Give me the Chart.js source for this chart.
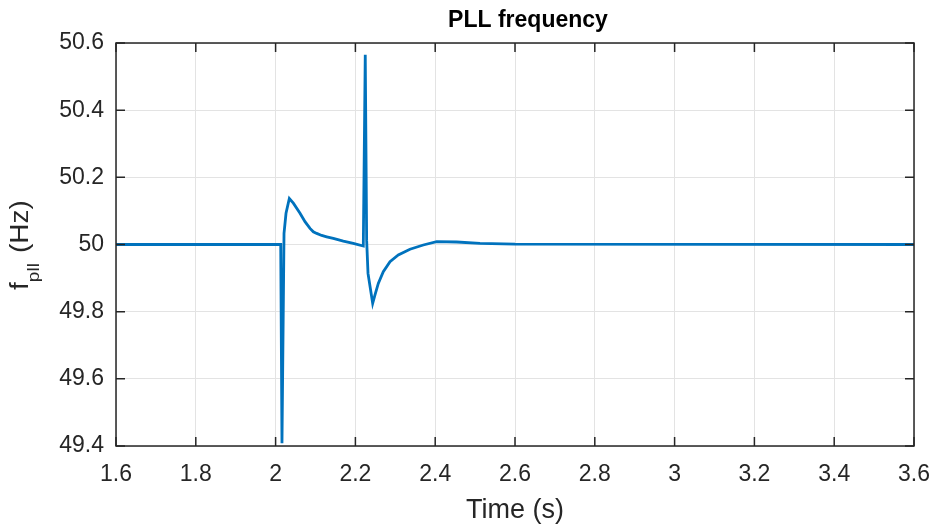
<!DOCTYPE html>
<html>
<head>
<meta charset="utf-8">
<title>PLL frequency</title>
<script src="https://cdn.jsdelivr.net/npm/chart.js@4/dist/chart.umd.min.js"></script>
<style>
  html, body { margin: 0; padding: 0; background: #fff; }
  #wrap { width: 934px; height: 529px; }
</style>
</head>
<body>
<div id="wrap"><canvas id="pllChart" width="934" height="529"></canvas></div>
<script>
// simulated PLL frequency after a grid disturbance
const timeS = [1.6, 2.0128, 2.0160, 2.0211, 2.0261, 2.0344, 2.0445, 2.0612, 2.0737, 2.0862,
  2.0945, 2.1030, 2.1155, 2.1280, 2.1446, 2.1697, 2.1947, 2.2198, 2.2206, 2.2247,
  2.2282, 2.2316, 2.2433, 2.2491, 2.2574, 2.2699, 2.2867, 2.3075, 2.3368,
  2.3702, 2.4037, 2.4539, 2.5123, 2.6000, 3.6];
const freqHz = [50.0, 50.0, 49.408, 50.033, 50.093, 50.137, 50.123, 50.093, 50.068, 50.048,
  50.038, 50.033, 50.027, 50.023, 50.018, 50.010, 50.0035, 49.9955, 49.9955, 50.565,
  50.013, 49.914, 49.825, 49.850, 49.884, 49.919, 49.949, 49.969, 49.986,
  49.9985, 50.0085, 50.0074, 50.0035, 50.001, 50.0];

const xTicks = [1.6, 1.8, 2.0, 2.2, 2.4, 2.6, 2.8, 3.0, 3.2, 3.4, 3.6];
const yTicks = [49.4, 49.6, 49.8, 50.0, 50.2, 50.4, 50.6];

const FONT = '"Liberation Sans", Arial, Helvetica, sans-serif';
const AXIS_COLOR = '#262626';
const TICK_LEN = 9;

const fmt = v => String(Number(v.toFixed(1)));

// MATLAB style box with inward ticks, title and y label with subscript
const matlabAxes = {
  id: 'matlabAxes',
  afterDraw(chart) {
    const ctx = chart.ctx;
    const a = chart.chartArea;
    const xs = chart.scales.x, ys = chart.scales.y;
    ctx.save();
    ctx.strokeStyle = AXIS_COLOR;
    ctx.lineWidth = 1.5;
    ctx.beginPath();
    xTicks.forEach(t => {
      const px = xs.getPixelForValue(t);
      ctx.moveTo(px, a.bottom); ctx.lineTo(px, a.bottom - TICK_LEN);
      ctx.moveTo(px, a.top); ctx.lineTo(px, a.top + TICK_LEN);
    });
    yTicks.forEach(t => {
      const py = ys.getPixelForValue(t);
      ctx.moveTo(a.left, py); ctx.lineTo(a.left + TICK_LEN, py);
      ctx.moveTo(a.right, py); ctx.lineTo(a.right - TICK_LEN, py);
    });
    ctx.stroke();
    ctx.strokeRect(a.left, a.top, a.right - a.left, a.bottom - a.top);

    // title
    ctx.fillStyle = '#000';
    ctx.font = 'bold 23px ' + FONT;
    ctx.textAlign = 'center';
    ctx.textBaseline = 'middle';
    ctx.fillText('PLL frequency', 528, 21);

    // y label: f_pll (Hz), drawn upward from the bottom end
    ctx.fillStyle = AXIS_COLOR;
    ctx.translate(28, 290);
    ctx.rotate(-Math.PI / 2);
    ctx.scale(1.12, 1);
    ctx.textBaseline = 'alphabetic';
    ctx.textAlign = 'left';
    ctx.font = '25px ' + FONT;
    ctx.fillText('f', 0, 0);
    ctx.fillText('(Hz)', 33, 0);
    ctx.font = '17px ' + FONT;
    ctx.fillText('pll', 7, 11);
    ctx.restore();
  }
};

new Chart(document.getElementById('pllChart'), {
  type: 'line',
  data: {
    datasets: [{
      label: 'f_pll',
      data: timeS.map((t, i) => ({ x: t, y: freqHz[i] })),
      borderColor: '#0072BD',
      borderWidth: 2.8,
      pointRadius: 0,
      tension: 0,
      fill: false
    }]
  },
  options: {
    responsive: false,
    animation: false,
    events: [],
    layout: { padding: { top: 43, right: 20, left: 0, bottom: 0 } },
    plugins: { legend: { display: false }, title: { display: false }, tooltip: { enabled: false } },
    scales: {
      x: {
        type: 'linear',
        min: 1.6, max: 3.6,
        afterBuildTicks: s => { s.ticks = xTicks.map(v => ({ value: v })); },
        afterFit: s => { s.height = 83; s.paddingLeft = 0; s.paddingRight = 0; },
        grid: { color: '#e3e3e3', lineWidth: 1, drawTicks: false },
        border: { display: false },
        ticks: {
          color: AXIS_COLOR, padding: 15, maxRotation: 0,
          font: { family: FONT, size: 23 },
          callback: v => fmt(v)
        },
        title: {
          display: true, text: 'Time (s)', color: AXIS_COLOR,
          font: { family: FONT, size: 27 }, padding: { top: 0, bottom: 2 }
        }
      },
      y: {
        min: 49.4, max: 50.6,
        afterBuildTicks: s => { s.ticks = yTicks.map(v => ({ value: v })); },
        afterFit: s => { s.width = 116; s.paddingTop = 0; s.paddingBottom = 0; },
        grid: { color: '#e3e3e3', lineWidth: 1, drawTicks: false },
        border: { display: false },
        ticks: {
          color: AXIS_COLOR, padding: 12,
          font: { family: FONT, size: 23 },
          callback: v => fmt(v)
        }
      }
    }
  },
  plugins: [matlabAxes]
});
</script>
</body>
</html>
